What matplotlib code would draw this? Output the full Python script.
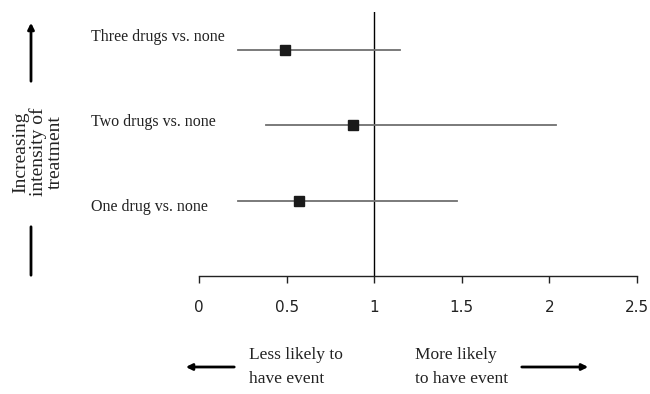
import matplotlib.pyplot as plt
import matplotlib.transforms as mtrans

# odds ratios
labels = ['One drug vs. none', 'Two drugs vs. none', 'Three drugs vs. none']
est = [0.57, 0.88, 0.49]
low = [0.22, 0.38, 0.22]
high = [1.47, 2.04, 1.15]
xticks = [0, 0.5, 1, 1.5, 2, 2.5]
xticklabels = ['0', '0.5', '1', '1.5', '2', '2.5']

ypos = [1, 2, 3]
label_dy = [-0.08, 0.04, 0.17]

fig = plt.figure(figsize=(6.5, 3.94), dpi=100)
ax = fig.add_axes([199 / 650, 1 - 276 / 394, 438 / 650, (276 - 11.75) / 394])

for y, lo, hi, e in zip(ypos, low, high, est):
    ax.plot([lo, hi], [y, y], color='#707070', lw=1.3, zorder=2)
    ax.plot(e, y, marker='s', ms=6.5, color='#1a1a1a', zorder=3)

ax.axvline(1, color='black', lw=1, zorder=1)

ax.set_xlim(0, 2.5)
ax.set_ylim(0, 3.5)
ax.set_xticks(xticks)
ax.set_xticklabels(xticklabels, fontsize=11, family='DejaVu Sans')
ax.tick_params(axis='x', direction='out', length=5, width=1, pad=12, colors='#222222')
ax.set_yticks([])
for s in ['left', 'right', 'top']:
    ax.spines[s].set_visible(False)
ax.spines['bottom'].set_linewidth(1)
ax.spines['bottom'].set_color('#222222')

serif = 'Liberation Serif'
# row labels: x in figure coords, y in data coords
tr = mtrans.blended_transform_factory(fig.transFigure, ax.transData)
for y, dy, lab in zip(ypos, label_dy, labels):
    ax.text(91 / 650, y + dy, lab, transform=tr, clip_on=False,
            ha='left', va='center', fontsize=11.5, family=serif, color='#222222')

fig.text(38 / 650, 1 - 152 / 394, 'Increasing\nintensity of\ntreatment', rotation=90,
         ha='center', va='center', multialignment='center', fontsize=14,
         family=serif, linespacing=1.0, color='#222222')

# vertical arrow and bar at left
ax.annotate('', xy=(31 / 650, 1 - 20 / 394), xytext=(31 / 650, 1 - 84 / 394),
            xycoords='figure fraction', textcoords='figure fraction',
            arrowprops=dict(arrowstyle='-|>', color='black', lw=2, mutation_scale=9))
ax.annotate('', xy=(31 / 650, 1 - 224 / 394), xytext=(31 / 650, 1 - 278 / 394),
            xycoords='figure fraction', textcoords='figure fraction',
            arrowprops=dict(arrowstyle='-', color='black', lw=2))

# bottom direction arrows
ax.annotate('', xy=(183 / 650, 1 - 367 / 394), xytext=(237 / 650, 1 - 367 / 394),
            xycoords='figure fraction', textcoords='figure fraction',
            arrowprops=dict(arrowstyle='-|>', color='black', lw=2, mutation_scale=9))
ax.annotate('', xy=(591 / 650, 1 - 367 / 394), xytext=(519 / 650, 1 - 367 / 394),
            xycoords='figure fraction', textcoords='figure fraction',
            arrowprops=dict(arrowstyle='-|>', color='black', lw=2, mutation_scale=9))

fig.text(249 / 650, 1 - 367 / 394, 'Less likely to\nhave event', ha='left', va='center',
         fontsize=12.5, family=serif, linespacing=1.6, color='#222222')
fig.text(415 / 650, 1 - 367 / 394, 'More likely\nto have event', ha='left', va='center',
         fontsize=12.5, family=serif, linespacing=1.6, color='#222222')

fig.savefig('out.png', dpi=100)
